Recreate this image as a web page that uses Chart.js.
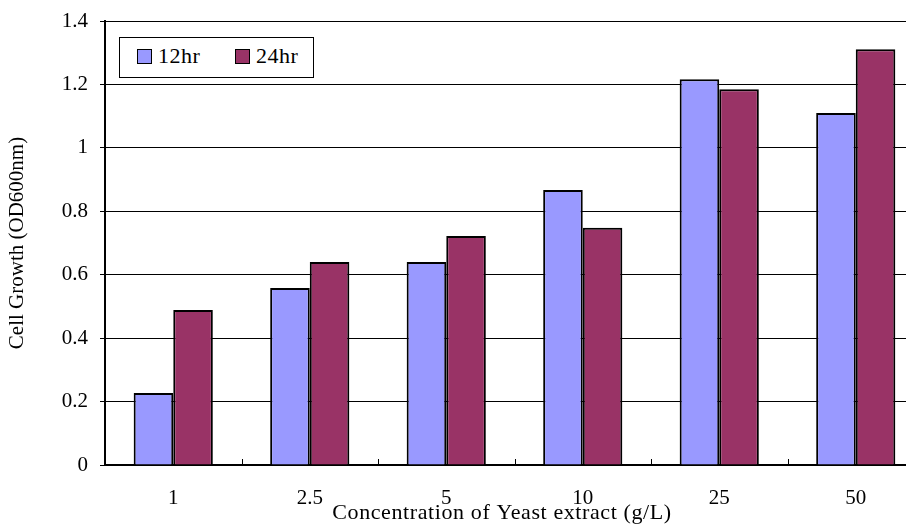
<!DOCTYPE html>
<html>
<head>
  <meta charset="UTF-8">
  <title>Cell Growth vs Yeast Extract</title>
  <style>
    html, body {
      margin: 0;
      padding: 0;
      background: #fff;
      overflow: hidden;
      width: 906px;
      height: 530px;
    }
    .wrap {
      position: relative;
      width: 930px;
      height: 530px;
    }
    .legend {
      position: absolute;
      left: 119px;
      top: 37px;
      width: 195px;
      height: 41px;
      border: 1px solid #000;
      background: #fff;
      font-family: "Liberation Serif", "Times New Roman", serif;
      font-size: 22px;
      box-sizing: border-box;
    }
    .legend i {
      position: absolute;
      top: 11px;
      width: 15px;
      height: 15px;
      border: 1.5px solid #000;
      box-sizing: border-box;
    }
    .legend span {
      position: absolute;
      top: 6px;
      line-height: 24px;
      letter-spacing: 0.5px;
    }
  </style>
</head>
<body>
  <div class="wrap">
    <canvas id="chart"></canvas>
    <!-- Legend box -->
    <div class="legend">
      <i style="left:17px; background:#9999ff"></i><span style="left:38px;">12hr</span>
      <i style="left:115px; background:#993366"></i><span style="left:136px;">24hr</span>
    </div>
  </div>

  <script src="https://cdn.jsdelivr.net/npm/chart.js"></script>
  <script>
    // data
    const categories = ["1", "2.5", "5", "10", "25", "50"];
    const hr12 = [0.227, 0.558, 0.640, 0.867, 1.216, 1.110];
    const hr24 = [0.489, 0.640, 0.722, 0.748, 1.185, 1.311];
    const yTicks = [0, 0.2, 0.4, 0.6, 0.8, 1, 1.2, 1.4];

    const serif = "'Liberation Serif', 'Times New Roman', serif";

    // small inward ticks between categories + x axis title
    const extras = {
      id: 'extras',
      afterDraw(chart) {
        const ctx = chart.ctx;
        const xs = chart.scales.x;
        const area = chart.chartArea;
        const w = xs.getPixelForValue(1) - xs.getPixelForValue(0);
        ctx.save();
        ctx.strokeStyle = '#000';
        ctx.lineWidth = 1;
        for (let i = 1; i <= categories.length; i++) {
          const px = Math.round(xs.getPixelForValue(i) - w / 2) + 0.5;
          ctx.beginPath();
          ctx.moveTo(px, area.bottom);
          ctx.lineTo(px, area.bottom - 6);
          ctx.stroke();
        }
        ctx.fillStyle = '#000';
        ctx.font = "22px " + serif;
        ctx.letterSpacing = '0.6px';
        ctx.textAlign = 'center';
        ctx.textBaseline = 'alphabetic';
        ctx.fillText('Concentration of Yeast extract (g/L)', area.left + 397, 519);
        ctx.restore();
      }
    };

    new Chart(document.getElementById('chart'), {
      type: 'bar',
      data: {
        labels: categories,
        datasets: [
          { label: '12hr', data: hr12, backgroundColor: '#9999ff', borderColor: '#000', borderWidth: 2 },
          { label: '24hr', data: hr24, backgroundColor: '#993366', borderColor: '#000', borderWidth: 2 }
        ]
      },
      options: {
        responsive: true,
        maintainAspectRatio: false,
        animation: false,
        layout: { padding: { top: 21, right: 6, left: 0, bottom: 0 } },
        datasets: { bar: { categoryPercentage: 0.58, barPercentage: 1 } },
        plugins: {
          legend: { display: false },
          tooltip: { enabled: false }
        },
        scales: {
          x: {
            grid: { display: false, drawTicks: false },
            border: { display: true, color: '#000', width: 2 },
            ticks: { color: '#000', font: { family: serif, size: 21 }, padding: 21, maxRotation: 0 },
            afterFit: s => { s.height = 65; s.paddingLeft = 0; s.paddingRight = 0; }
          },
          y: {
            min: 0,
            max: 1.4,
            afterBuildTicks: s => { s.ticks = yTicks.map(v => ({ value: v })); },
            grid: { color: '#000', lineWidth: 1, tickLength: 5, tickColor: '#000' },
            border: { display: true, color: '#000', width: 2 },
            ticks: {
              color: '#000',
              font: { family: serif, size: 21 },
              padding: 12,
              callback: v => String(v)
            },
            title: {
              display: true,
              text: 'Cell Growth (OD600nm)',
              color: '#000',
              font: { family: serif, size: 21 },
              padding: { top: 5, bottom: 0 }
            },
            afterFit: s => { s.width = 105; s.paddingTop = 0; s.paddingBottom = 0; }
          }
        }
      },
      plugins: [extras]
    });
  </script>
</body>
</html>
